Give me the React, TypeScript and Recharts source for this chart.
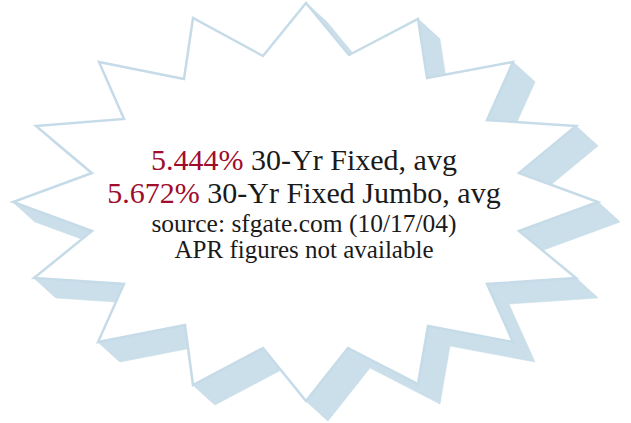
import { Scatter, ScatterChart, XAxis, YAxis } from "recharts";

// starburst vertices, clockwise from the top spike (outer / inner alternating)
const starX = [
  306, 349, 418, 427, 513, 487, 576, 519, 598, 519, 576, 487, 513, 428, 418, 348,
  306, 263, 193, 185, 98, 124, 34, 92, 13, 92, 36, 124, 99, 184, 193, 263,
];
const starY = [
  3, 55, 19, 78, 62, 120, 126, 173, 202, 231, 278, 284, 342, 326, 384, 348,
  401, 348, 385, 325, 342, 284, 278, 231, 202, 173, 126, 119, 62, 79, 18, 56,
];

const rateValues = ["5.444%", "5.672%"];
const rateLabels = ["30-Yr Fixed, avg", "30-Yr Fixed Jumbo, avg"];
const notes = ["source: sfgate.com (10/17/04)", "APR figures not available"];

const WIDTH = 631;
const HEIGHT = 423;
const DEPTH_X = 22;
const DEPTH_Y = 20;
const SERIF = '"Liberation Serif", "DejaVu Serif", serif';

const starPoints = starX.map((x, i) => ({ x, y: starY[i] }));

// the 3D extrusion: each edge swept along the depth offset
const extrusionPoints = starPoints.flatMap((p, i) => {
  const q = starPoints[(i + 1) % starPoints.length];
  return [
    p,
    q,
    { x: q.x + DEPTH_X, y: q.y + DEPTH_Y },
    { x: p.x + DEPTH_X, y: p.y + DEPTH_Y },
  ];
});

type Pt = { x: number; y: number };
const toPoints = (pts: Pt[]) => pts.map((p) => `${p.x},${p.y}`).join(" ");

const NoDot = () => <g />;

function StarShape(props: any) {
  return (
    <polygon
      points={toPoints(props.points)}
      fill="#ffffff"
      stroke="#c6dbe8"
      strokeWidth={2.5}
      strokeLinejoin="miter"
    />
  );
}

function ExtrusionShape(props: any) {
  const pts: Pt[] = props.points;
  const quads: Pt[][] = [];
  for (let i = 0; i < pts.length; i += 4) quads.push(pts.slice(i, i + 4));
  return (
    <g>
      {quads.map((q, i) => (
        <polygon
          key={i}
          points={toPoints(q)}
          fill="#cbdfea"
          stroke="#cbdfea"
          strokeWidth={0.6}
        />
      ))}
    </g>
  );
}

function Caption() {
  const textStyle = { fontFamily: SERIF };
  return (
    <svg
      width={WIDTH}
      height={HEIGHT}
      style={{ position: "absolute", left: 0, top: 0, pointerEvents: "none" }}
    >
      <g textAnchor="middle" fill="#1a1a1a">
        <text x={304} y={170} fontSize={30} style={textStyle}>
          <tspan fill="#a00c2c">{rateValues[0]}</tspan>
          {" " + rateLabels[0]}
        </text>
        <text x={304} y={203} fontSize={30} style={textStyle}>
          <tspan fill="#a00c2c">{rateValues[1]}</tspan>
          {" " + rateLabels[1]}
        </text>
        <text x={304} y={232} fontSize={25.5} style={textStyle}>
          {notes[0]}
        </text>
        <text x={304} y={258} fontSize={25} style={textStyle}>
          {notes[1]}
        </text>
      </g>
    </svg>
  );
}

export default function App() {
  return (
    <div
      style={{
        position: "absolute",
        left: 0,
        top: 0,
        width: WIDTH,
        height: HEIGHT,
        background: "#fff",
      }}
    >
      <ScatterChart
        width={WIDTH}
        height={HEIGHT}
        margin={{ top: 0, right: 0, bottom: 0, left: 0 }}
      >
        <XAxis type="number" dataKey="x" domain={[0, WIDTH]} hide />
        <YAxis type="number" dataKey="y" domain={[0, HEIGHT]} reversed hide />
        <Scatter
          data={extrusionPoints}
          shape={NoDot}
          line={ExtrusionShape}
          isAnimationActive={false}
        />
        <Scatter
          data={starPoints}
          shape={NoDot}
          line={StarShape}
          isAnimationActive={false}
        />
      </ScatterChart>
      <Caption />
    </div>
  );
}
